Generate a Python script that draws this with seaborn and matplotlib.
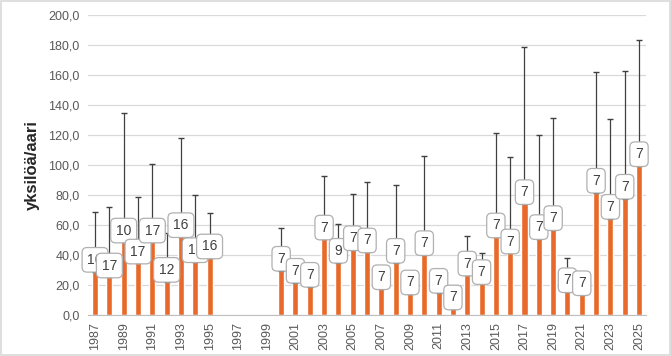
import numpy as np
import pandas as pd
import matplotlib
matplotlib.use("Agg")
import matplotlib.pyplot as plt
import seaborn as sns

# vuodet 1987-2025, puuttuvat vuodet = NaN
years = [str(y) for y in range(1987, 2026)]
means = [28.9, 25.1, 48.4, 34.4, 48.4, 22.2, 52.0, 35.3, 37.8,
         np.nan, np.nan, np.nan, np.nan,
         29.6, 21.6, 18.9, 50.4, 34.9, 43.3, 41.8, 17.3, 34.9, 13.8,
         40.0, 14.9, 3.8, 26.4, 20.7, 51.8, 41.1, 74.0, 50.7, 56.7,
         15.3, 13.3, 81.6, 64.2, 77.6, 99.3]
upper = [68.7, 72.0, 134.9, 78.9, 100.9, 54.9, 118.2, 80.2, 68.2,
         np.nan, np.nan, np.nan, np.nan,
         57.8, 24.7, 21.6, 92.7, 60.4, 80.4, 88.4, 20.0, 86.9, 16.7,
         106.0, 17.6, 6.4, 52.9, 41.1, 121.6, 105.6, 178.4, 120.2, 131.3,
         38.2, 16.2, 161.8, 130.4, 162.9, 183.1]
counts = [16, 17, 10, 17, 17, 12, 16, 16, 16,
          None, None, None, None,
          7, 7, 7, 7, 9, 7, 7, 7, 7, 7,
          7, 7, 7, 7, 7, 7, 7, 7, 7, 7,
          7, 7, 7, 7, 7, 7]

df = pd.DataFrame({"vuosi": years, "ka": means, "yla": upper})

sns.set_style("white")
plt.rcParams['font.family'] = ['Liberation Sans', 'DejaVu Sans']

fig = plt.figure(figsize=(6.71, 3.56), dpi=100)
ax = fig.add_axes([0.131, 0.115, 0.832, 0.843])

sns.barplot(data=df, x="vuosi", y="ka", order=years, color="#E8692A",
            saturation=1, width=0.42, errorbar=None, ax=ax, zorder=2)

# virhepalkit vain ylöspäin
pos = np.arange(len(years))
err_hi = df["yla"] - df["ka"]
ax.errorbar(pos, df["ka"], yerr=[np.zeros(len(years)), err_hi], fmt="none",
            ecolor="#404040", elinewidth=0.9, capsize=2.5, capthick=1.0, zorder=3)

# havaintomäärät laatikoissa
for i, (m, n) in enumerate(zip(means, counts)):
    if n is None:
        continue
    ax.annotate(str(n), (i, m), xytext=(0, 3.5), textcoords="offset points",
                ha="center", va="bottom", fontsize=10, color="#404040", zorder=5,
                bbox=dict(boxstyle="round,pad=0.38,rounding_size=0.35", fc="white",
                          ec="#b0b0b0", lw=0.9))

ax.set_ylim(0, 200)
ax.set_yticks(np.arange(0, 201, 20))
ax.set_yticklabels([f"{v:.1f}".replace(".", ",") for v in np.arange(0, 201, 20)],
                   fontsize=9, color="#595959")
ax.set_xlim(-0.5, len(years) - 0.5)
ax.set_xticks(pos[::2])
ax.set_xticklabels(years[::2], rotation=90, fontsize=9, color="#595959")
ax.set_xticks(np.arange(-0.5, len(years), 1), minor=True)
ax.tick_params(axis="x", which="major", length=0, pad=5)
ax.tick_params(axis="x", which="minor", length=4, color="#bfbfbf", width=0.8)
ax.tick_params(axis="y", length=0, pad=6)

ax.grid(axis="y", color="#d9d9d9", lw=0.9, zorder=0)
ax.set_axisbelow(True)
for s in ["top", "right", "left"]:
    ax.spines[s].set_visible(False)
ax.spines["bottom"].set_color("#bfbfbf")

ax.set_xlabel("")
ax.set_ylabel("yksilöä/aari", fontsize=12, fontweight="bold", labelpad=6)

# kehys kuvan ympärille
fig.patches.append(plt.Rectangle((0.002, 0.003), 0.996, 0.994, transform=fig.transFigure,
                                 fill=False, ec="#d9d9d9", lw=1.2))

fig.savefig("out.png", dpi=100)
